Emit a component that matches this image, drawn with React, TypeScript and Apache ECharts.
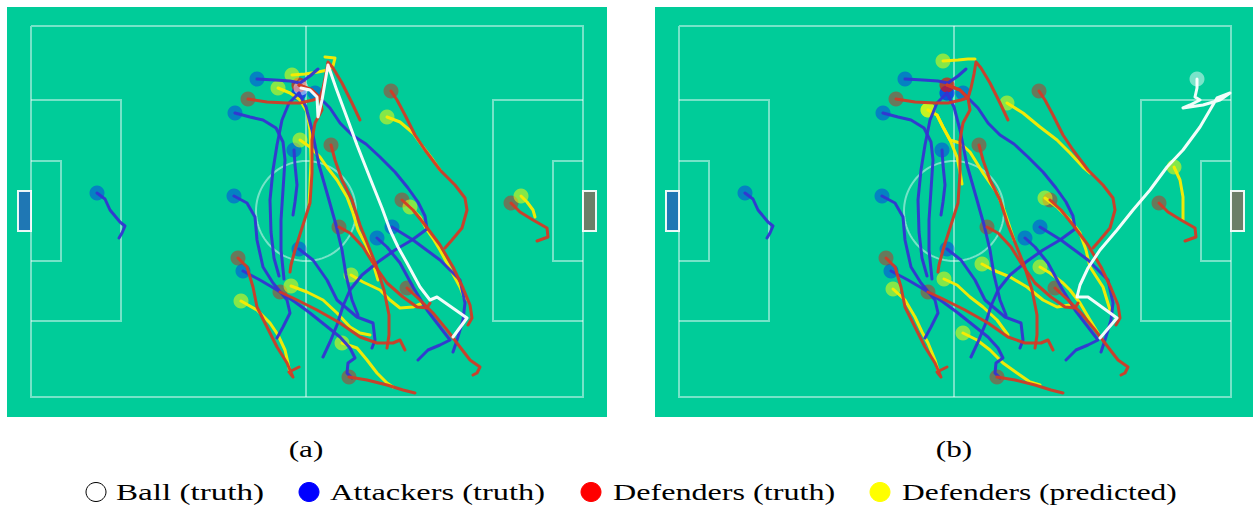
import React, { useEffect, useRef } from 'react';
import * as echarts from 'echarts';

type Pt = [number, number];

// ---- pitch geometry (pitch coordinates, panel (a) pixel frame) ----
const PITCH_LINES: Pt[][] = [
  [[31, 26], [583, 26], [583, 397], [31, 397], [31, 26]],
  [[306, 26], [306, 397]],
  [[31, 100], [121, 100], [121, 321], [31, 321]],
  [[583, 100], [493, 100], [493, 321], [583, 321]],
  [[31, 161], [61, 161], [61, 261], [31, 261]],
  [[583, 161], [553, 161], [553, 261], [583, 261]],
];
const CENTER: Pt = [306, 211];
const CENTER_R = 50;
const GOALS: number[][] = [[18, 191, 31, 231], [583, 191, 596, 231]];
const GOAL_COLORS = ['#1f77b4', '#6b7f68'];

// ---- trajectories (shared truth) ----
const ATTACKERS: Pt[][] = [
  [[97, 193], [105, 199], [110, 210], [120, 222], [125, 226], [122, 233], [119, 238]],
  [[257, 79], [275, 80], [290, 81], [300, 83], [310, 76], [318, 69]],
  [[235, 113], [250, 117], [263, 120], [276, 128], [283, 142], [285, 160], [283, 190], [281, 220], [281, 250], [284, 279]],
  [[299, 93], [289, 103], [282, 120], [277, 145], [273, 170], [270, 200], [271, 232], [274, 258], [279, 276]],
  [[315, 93], [322, 100], [330, 108], [340, 123], [352, 135], [366, 144], [380, 157], [395, 172], [408, 188], [418, 202], [425, 216], [427, 229], [412, 240], [395, 250], [378, 262], [362, 275], [350, 290], [343, 306], [337, 325], [330, 342], [323, 357]],
  [[294, 150], [295, 165], [297, 185], [295, 202], [293, 215]],
  [[234, 196], [247, 203], [255, 217], [257, 240], [263, 267], [273, 283], [287, 300], [290, 313], [283, 327], [277, 338]],
  [[243, 271], [260, 280], [277, 290], [295, 302], [310, 313], [325, 325], [340, 337], [350, 348], [355, 358], [348, 363], [347, 373], [352, 378]],
  [[299, 249], [313, 260], [327, 280], [337, 300], [357, 317], [373, 323], [375, 340], [372, 348]],
  [[377, 238], [387, 247], [400, 263], [413, 287], [427, 310], [440, 327], [450, 340], [440, 345], [428, 350], [418, 360]],
  [[392, 227], [413, 240], [440, 260], [460, 280], [465, 303], [463, 320], [457, 340], [453, 352]],
  [[299, 93], [306, 107], [312, 130], [319, 165], [329, 200], [336, 225], [342, 250], [346, 275], [352, 300], [358, 315]],
];

const DEFENDERS_TRUTH: Pt[][] = [
  [[248, 99], [267, 102], [287, 103], [300, 103], [313, 100], [319, 98]],
  [[299, 85], [312, 90], [320, 98], [323, 88], [326, 74], [328, 62], [333, 68], [342, 83], [352, 103], [360, 120]],
  [[299, 85], [312, 90], [320, 98], [322, 110], [315, 123], [312, 140], [312, 173], [310, 203], [302, 228], [295, 250], [291, 265], [290, 272]],
  [[391, 91], [397, 100], [405, 115], [415, 135], [425, 150], [440, 170], [455, 185], [465, 198], [467, 210], [462, 228], [452, 240], [445, 248]],
  [[331, 145], [335, 160], [342, 180], [352, 200], [360, 225], [368, 245], [376, 265], [384, 290], [389, 315], [389, 335], [387, 348]],
  [[402, 200], [413, 210], [425, 225], [440, 245], [453, 267], [463, 288], [470, 305], [472, 318], [468, 325]],
  [[339, 227], [350, 233], [363, 247], [373, 263], [387, 283], [403, 297], [417, 307], [427, 308], [430, 303]],
  [[238, 258], [247, 267], [253, 287], [257, 307], [267, 327], [277, 347], [287, 363], [293, 377], [289, 372], [299, 367]],
  [[280, 292], [293, 298], [317, 310], [340, 323], [360, 337], [377, 343], [393, 343], [400, 340], [405, 350]],
  [[349, 377], [367, 380], [387, 385], [403, 390], [415, 393]],
  [[407, 288], [420, 300], [433, 313], [447, 330], [460, 347], [470, 360], [480, 367], [477, 373], [473, 375]],
  [[511, 203], [520, 212], [533, 220], [547, 228], [548, 237], [537, 241]],
];

// ---- predicted defenders, panel (a) ----
const PREDICTED_A: Pt[][] = [
  [[292, 75], [305, 74], [318, 72], [328, 70], [333, 66], [335, 58], [325, 57]],
  [[278, 88], [290, 93], [300, 100], [307, 112], [310, 130], [311, 160], [310, 185], [309, 205]],
  [[300, 140], [310, 147], [320, 157], [327, 167], [337, 180], [347, 197], [353, 213], [358, 230], [366, 245], [373, 263], [378, 280]],
  [[387, 117], [400, 122], [413, 133], [423, 147], [433, 160], [440, 170]],
  [[410, 207], [420, 217], [427, 230], [434, 240], [440, 250], [447, 263], [460, 287], [465, 300]],
  [[351, 275], [363, 282], [380, 290], [390, 300], [400, 308], [413, 307], [423, 303]],
  [[291, 286], [307, 292], [323, 300], [337, 313], [350, 327], [360, 333], [370, 335]],
  [[241, 301], [257, 310], [270, 323], [278, 335], [285, 350], [288, 363], [290, 373]],
  [[342, 343], [357, 348], [367, 360], [377, 373], [387, 383], [393, 387]],
  [[521, 196], [527, 202], [533, 210], [535, 217]],
];

// ---- predicted defenders, panel (b) ----
const PREDICTED_B: Pt[][] = [
  [[295, 61], [310, 60], [320, 59], [327, 59]],
  [[280, 110], [289, 115], [295, 127], [302, 140], [309, 157], [312, 172], [314, 184]],
  [[359, 103], [375, 113], [392, 127], [409, 140], [422, 153], [435, 167], [442, 173]],
  [[280, 110], [289, 115], [295, 127], [302, 140], [312, 143], [322, 152], [335, 173], [349, 193], [356, 210], [362, 228], [366, 240]],
  [[397, 198], [409, 207], [422, 220], [432, 233], [438, 250], [442, 267], [455, 287], [462, 310]],
  [[334, 264], [345, 270], [362, 277], [379, 287], [395, 300], [409, 307], [422, 305]],
  [[392, 267], [402, 273], [415, 283], [422, 290], [432, 303], [442, 320], [450, 333]],
  [[296, 279], [309, 285], [322, 297], [335, 307], [349, 320], [360, 335]],
  [[245, 289], [257, 300], [267, 317], [274, 332], [280, 343], [287, 360], [290, 370]],
  [[315, 333], [329, 340], [342, 350], [355, 363], [369, 373], [382, 382], [392, 385]],
  [[526, 167], [532, 180], [535, 197], [535, 213], [535, 220]],
];

// ---- ball ----
const BALL_A: Pt[] = [[301, 88], [310, 90], [317, 97], [318, 117], [322, 100], [328, 65], [336, 88], [346, 115], [357, 145], [370, 178], [382, 208], [390, 230], [398, 247], [407, 263], [420, 287], [430, 300], [437, 297], [467, 318], [453, 337]];
const BALL_B: Pt[] = [[549, 79], [549, 88], [547, 97], [552, 100], [542, 105], [535, 108], [555, 105], [572, 100], [582, 93], [569, 98], [552, 127], [535, 150], [519, 167], [502, 190], [485, 210], [469, 230], [452, 250], [440, 268], [432, 285], [429, 297], [440, 297], [469, 318], [452, 338]];

const CAPTIONS = ['(a)', '(b)'];
const LEGEND_LABELS = ['Ball (truth)', 'Attackers (truth)', 'Defenders (truth)', 'Defenders (predicted)'];
const LEGEND_FILL = ['#ffffff', '#0000ff', '#ff0000', '#ffff00'];

const SERIF = "'Liberation Serif', 'Times New Roman', serif";

function circlePoints(): Pt[] {
  const pts: Pt[] = [];
  for (let i = 0; i <= 96; i++) {
    const a = (i / 96) * Math.PI * 2;
    pts.push([CENTER[0] + CENTER_R * Math.cos(a), CENTER[1] + CENTER_R * Math.sin(a)]);
  }
  return pts;
}

function panelSeries(p: number, predicted: Pt[][], ball: Pt[]): any[] {
  const ax = { xAxisIndex: p, yAxisIndex: p };
  const trail = (name: string, data: Pt[][], color: string, z: number) => ({
    type: 'lines', name, coordinateSystem: 'cartesian2d', ...ax, polyline: true, silent: true, z,
    data: data.map((c) => ({ coords: c })),
    lineStyle: { color, width: 3, opacity: 0.95, cap: 'round', join: 'round' },
  });
  const marks = (name: string, data: Pt[][], color: string, z: number) => ({
    type: 'scatter', name, ...ax, silent: true, z, symbol: 'circle', symbolSize: 15,
    data: data.map((c) => c[0]),
    itemStyle: { color },
  });
  return [
    {
      type: 'lines', coordinateSystem: 'cartesian2d', ...ax, polyline: true, silent: true, z: 1,
      data: [...PITCH_LINES, circlePoints()].map((c) => ({ coords: c })),
      lineStyle: { color: 'rgba(255,255,255,0.92)', width: 2 },
    },
    {
      type: 'custom', ...ax, silent: true, z: 1, clip: false,
      data: GOALS,
      encode: { x: [0, 2], y: [1, 3] },
      renderItem: (params: any, api: any) => {
        const a = api.coord([api.value(0), api.value(1)]);
        const b = api.coord([api.value(2), api.value(3)]);
        return {
          type: 'rect',
          shape: { x: Math.min(a[0], b[0]), y: Math.min(a[1], b[1]), width: Math.abs(b[0] - a[0]), height: Math.abs(b[1] - a[1]) },
          style: { fill: GOAL_COLORS[params.dataIndex], stroke: 'rgba(255,255,255,0.92)', lineWidth: 2 },
        };
      },
    },
    marks('Attackers (truth)', ATTACKERS, 'rgba(10,20,255,0.5)', 2),
    marks('Defenders (truth)', DEFENDERS_TRUTH, 'rgba(255,0,0,0.5)', 2),
    marks('Defenders (predicted)', predicted, 'rgba(255,255,0,0.65)', 2),
    marks('Ball (truth)', [ball], 'rgba(255,255,255,0.6)', 2),
    trail('Defenders (predicted)', predicted, '#fbeb00', 3),
    trail('Attackers (truth)', ATTACKERS, '#3434d2', 4),
    trail('Defenders (truth)', DEFENDERS_TRUTH, '#d23a26', 5),
    trail('Ball (truth)', [ball], '#ffffff', 6),
  ];
}

function buildOption(): any {
  const legendX = [[96, 116], [309, 330], [591, 613], [880, 902]];
  const legendScale = [1.38, 1.35, 1.34, 1.31];
  const graphic: any[] = [];
  CAPTIONS.forEach((c, i) => {
    graphic.push({
      type: 'text', x: i === 0 ? 306 : 954, y: 449, scaleX: 1.3,
      style: { text: c, fontFamily: SERIF, fontSize: 24, fill: '#000', textAlign: 'center', textVerticalAlign: 'middle' },
    });
  });
  LEGEND_LABELS.forEach((l, i) => {
    graphic.push({
      type: 'ellipse', shape: { cx: legendX[i][0], cy: 492, rx: 10, ry: 9.5 },
      style: { fill: LEGEND_FILL[i], stroke: i === 0 ? '#000' : LEGEND_FILL[i], lineWidth: 1 },
    });
    graphic.push({
      type: 'text', x: legendX[i][1], y: 492, scaleX: legendScale[i],
      style: { text: l, fontFamily: SERIF, fontSize: 24, fill: '#000', textAlign: 'left', textVerticalAlign: 'middle' },
    });
  });

  return {
    animation: false,
    backgroundColor: '#ffffff',
    grid: [
      { left: 7, top: 7, width: 600, height: 410, show: true, backgroundColor: '#00cc99', borderWidth: 0 },
      { left: 655, top: 7, width: 598, height: 410, show: true, backgroundColor: '#00cc99', borderWidth: 0 },
    ],
    xAxis: [
      { type: 'value', gridIndex: 0, min: 7, max: 607, show: false },
      { type: 'value', gridIndex: 1, min: 7, max: 605, show: false },
    ],
    yAxis: [
      { type: 'value', gridIndex: 0, min: 7, max: 417, inverse: true, show: false },
      { type: 'value', gridIndex: 1, min: 7, max: 417, inverse: true, show: false },
    ],
    series: [...panelSeries(0, PREDICTED_A, BALL_A), ...panelSeries(1, PREDICTED_B, BALL_B)],
    graphic,
  };
}

export default function App() {
  const ref = useRef<HTMLDivElement>(null);
  useEffect(() => {
    const chart = echarts.init(ref.current!, null, { renderer: 'svg' });
    chart.setOption(buildOption());
    return () => chart.dispose();
  }, []);
  return (
    <div
      ref={ref}
      style={{ position: 'fixed', left: 0, top: 0, width: 1253, height: 507, background: '#fff' }}
    />
  );
}
